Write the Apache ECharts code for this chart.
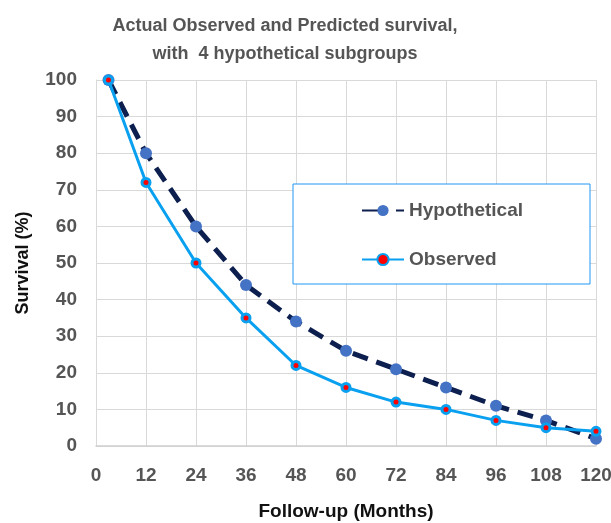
<!DOCTYPE html>
<html><head><meta charset="utf-8">
<script src="https://cdn.jsdelivr.net/npm/echarts@6/dist/echarts.min.js"></script>
<style>html,body{margin:0;padding:0;background:#fff}#c{width:611px;height:523px}</style>
</head><body><div id="c"></div>
<script>
var months = [3, 12, 24, 36, 48, 60, 72, 84, 96, 108, 120];
var hypothetical = [100, 80, 60, 44, 34, 26, 21, 16, 11, 7, 2];
var observed = [100, 72, 50, 35, 22, 16, 12, 10, 7, 5, 4];
var titleLines = ['Actual Observed and Predicted survival,', 'with  4 hypothetical subgroups'];
var xName = 'Follow-up (Months)';
var yName = 'Survival (%)';

var font = 'Liberation Sans, Arial, sans-serif';
var chart = echarts.init(document.getElementById('c'));
chart.setOption({
  animation: false,
  title: {
    text: titleLines.join('\n'),
    left: 280, top: 7, textAlign: 'center',
    textStyle: {fontFamily: font, fontWeight: 'bold', fontSize: 18, color: '#555555', lineHeight: 28}
  },
  grid: {left: 96, right: 15, top: 80, bottom: 77, containLabel: false, outerBoundsMode: 'none'},
  graphic: [{
    type: 'rect', shape: {x: 293, y: 184, width: 297, height: 100},
    style: {fill: '#ffffff', stroke: '#2196f3', lineWidth: 1}, z: 5
  }],
  legend: {
    orient: 'vertical', left: 356, top: 196, itemGap: 30,
    itemWidth: 42, itemHeight: 14, z: 10,
    textStyle: {fontFamily: font, fontWeight: 'bold', fontSize: 19, color: '#555555'},
    data: [
      {name: 'Hypothetical', lineStyle: {type: [24, 10]}},
      {name: 'Observed'}
    ]
  },
  xAxis: {
    type: 'value', min: 0, max: 120, interval: 12,
    name: xName, nameLocation: 'middle', nameGap: 56,
    nameTextStyle: {fontFamily: font, fontWeight: 'bold', fontSize: 19, color: '#111111'},
    axisLine: {show: true, lineStyle: {color: '#d0d0d0', width: 1.5}},
    axisTick: {show: false},
    splitLine: {show: true, lineStyle: {color: '#d9d9d9', width: 1}},
    axisLabel: {margin: 20, fontFamily: font, fontWeight: 'bold', fontSize: 19, color: '#555555'}
  },
  yAxis: {
    type: 'value', min: 0, max: 100, interval: 10,
    name: yName, nameLocation: 'middle', nameGap: 64, nameRotate: 90,
    nameTextStyle: {fontFamily: font, fontWeight: 'bold', fontSize: 18, color: '#111111'},
    axisLine: {show: true, lineStyle: {color: '#d9d9d9', width: 1}},
    axisTick: {show: false},
    splitLine: {show: true, lineStyle: {color: '#d9d9d9', width: 1}},
    axisLabel: {margin: 19, fontFamily: font, fontWeight: 'bold', fontSize: 19, color: '#555555'}
  },
  series: [{
    name: 'Hypothetical', type: 'line',
    data: months.map(function (m, i) { return [m, hypothetical[i]]; }),
    symbol: 'circle', symbolSize: 12,
    lineStyle: {color: '#0c1f4e', width: 5, type: [16, 9]},
    itemStyle: {color: '#4472c4', borderWidth: 0},
    z: 3
  }, {
    name: 'Observed', type: 'line',
    data: months.map(function (m, i) { return [m, observed[i]]; }),
    symbol: 'circle', symbolSize: 8,
    lineStyle: {color: '#0aa0f0', width: 3},
    itemStyle: {color: '#ff0000', borderColor: '#0aa0f0', borderWidth: 3},
    z: 4
  }]
});
</script></body></html>
